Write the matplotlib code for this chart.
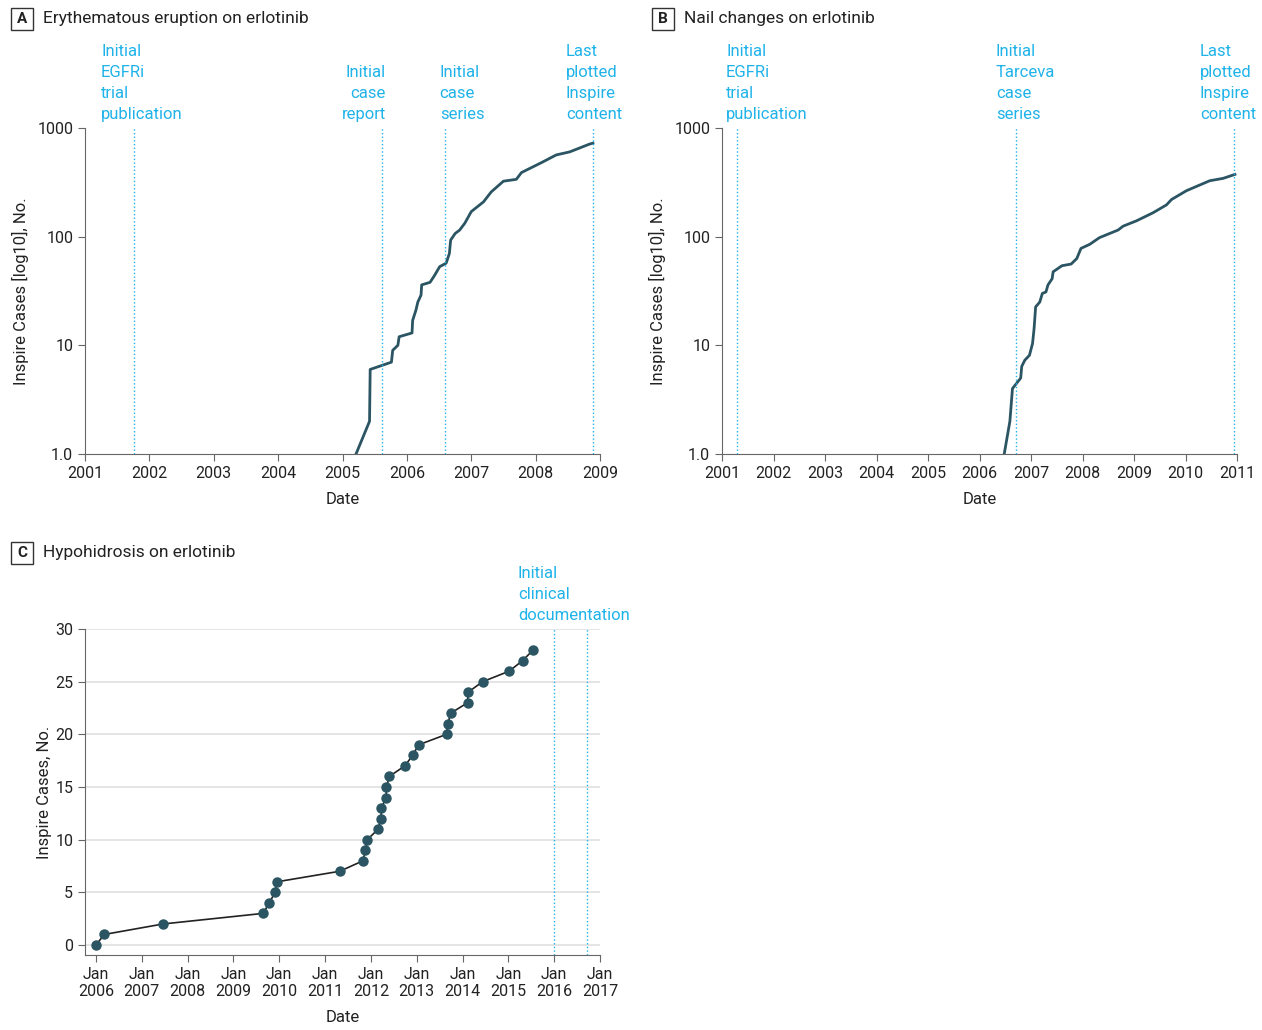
# Inspire cases on erlotinib - three panels
import numpy as np
import matplotlib.pyplot as plt
from matplotlib.patches import Rectangle

plt.rcParams['font.family'] = ['Roboto', 'DejaVu Sans']

# =========================
# Data (dates as decimal years)
# =========================
a_dates = [2005.21, 2005.42, 2005.43, 2005.76, 2005.78, 2005.86, 2005.88, 2006.08, 2006.09,
           2006.14, 2006.17, 2006.22, 2006.23, 2006.36, 2006.43, 2006.51, 2006.61, 2006.66,
           2006.68, 2006.75, 2006.82, 2006.90, 2007.00, 2007.19, 2007.31, 2007.50, 2007.70,
           2007.78, 2008.09, 2008.32, 2008.53, 2008.84, 2008.89]
a_cases = [1, 2, 6, 7, 9, 10, 12, 13, 17, 21, 25, 29, 36, 38, 44, 53, 57, 70, 93, 107, 115,
           133, 170, 209, 258, 324, 337, 389, 480, 565, 603, 712, 725]
a_events = [2001.76, 2005.61, 2006.59, 2008.89]

b_dates = [2006.48, 2006.59, 2006.64, 2006.80, 2006.82, 2006.88, 2006.97, 2007.03, 2007.06,
           2007.09, 2007.17, 2007.22, 2007.29, 2007.33, 2007.41, 2007.43, 2007.60, 2007.78,
           2007.89, 2007.97, 2008.14, 2008.33, 2008.69, 2008.79, 2009.05, 2009.37, 2009.63,
           2009.73, 2010.02, 2010.47, 2010.73, 2010.96]
b_cases = [1, 2, 4, 5, 6.4, 7.3, 8.1, 10.4, 14.3, 22.6, 25, 30, 31, 36, 41, 47.5, 54, 56, 63,
           78, 85, 98, 115, 125, 140, 166, 196, 220, 265, 327, 344, 374]
b_events = [2001.29, 2006.71, 2010.94]

c_dates = [2006.00, 2006.18, 2007.47, 2009.65, 2009.78, 2009.91, 2009.95, 2011.32, 2011.83,
           2011.88, 2011.92, 2012.16, 2012.22, 2012.23, 2012.33, 2012.34, 2012.40, 2012.74,
           2012.91, 2013.04, 2013.65, 2013.68, 2013.74, 2014.11, 2014.12, 2014.44, 2015.02,
           2015.31, 2015.54]
c_cases = list(range(0, 29))
c_events = [2016.0, 2016.72]

years_a = list(range(2001, 2010))
years_b = list(range(2001, 2012))
years_c = list(range(2006, 2018))
log_ticks = [1, 10, 100, 1000]
log_labels = ["1.0", "10", "100", "1000"]

LINE = "#2b5563"
CYAN = "#1fb3ea"
SPINE = "#666666"

fig = plt.figure(figsize=(12.62, 10.30), dpi=100)
W, H = 1262.0, 1030.0

def px_axes(x0, y0, x1, y1):
    return fig.add_axes([x0 / W, 1 - y1 / H, (x1 - x0) / W, (y1 - y0) / H])

def style(ax):
    for s in ["top", "right"]:
        ax.spines[s].set_visible(False)
    for s in ["left", "bottom"]:
        ax.spines[s].set_color(SPINE)
    ax.tick_params(colors=SPINE, labelcolor="#222222", labelsize=11.5, length=5)

def panel_label(letter, title, x, y):
    fig.add_artist(Rectangle(((x - 11) / W, 1 - (y + 11) / H), 22 / W, 22 / H,
                             transform=fig.transFigure, fill=False, lw=1.0, ec="#333333"))
    fig.text(x / W, 1 - y / H, letter, ha="center", va="center", fontsize=11,
             fontweight="bold", color="#222222")
    fig.text((x + 21) / W, 1 - y / H, title, ha="left", va="center", fontsize=12.5,
             color="#222222")

def notes(ax, items):
    for x, txt, ha in items:
        ax.text(x, 1.018, txt, transform=ax.get_xaxis_transform(), ha=ha, va="bottom",
                color=CYAN, fontsize=12, linespacing=1.5)

# =========================
# Panel A
# =========================
axA = px_axes(85, 128, 600, 454)
axA.plot(a_dates, a_cases, color=LINE, lw=2)
for e in a_events:
    axA.axvline(e, color=CYAN, ls=":", lw=1)
axA.set_yscale("log")
axA.set_ylim(1, 1000)
axA.set_xlim(2001, 2009)
axA.set_xticks(years_a)
axA.set_xticklabels([str(y) for y in years_a])
axA.set_yticks(log_ticks)
axA.set_yticklabels(log_labels)
axA.minorticks_off()
axA.set_xlabel("Date", fontsize=12, color="#222222", labelpad=8)
axA.set_ylabel("Inspire Cases [log10], No.", fontsize=12, color="#222222", labelpad=6)
style(axA)
notes(axA, [(2001.25, "Initial\nEGFRi\ntrial\npublication", "left"),
            (2005.67, "Initial\ncase\nreport", "right"),
            (2006.51, "Initial\ncase\nseries", "left"),
            (2008.47, "Last\nplotted\nInspire\ncontent", "left")])
panel_label("A", "Erythematous eruption on erlotinib", 22, 19)

# =========================
# Panel B
# =========================
axB = px_axes(722, 128, 1237, 454)
axB.plot(b_dates, b_cases, color=LINE, lw=2)
for e in b_events:
    axB.axvline(e, color=CYAN, ls=":", lw=1)
axB.set_yscale("log")
axB.set_ylim(1, 1000)
axB.set_xlim(2001, 2011)
axB.set_xticks(years_b)
axB.set_xticklabels([str(y) for y in years_b])
axB.set_yticks(log_ticks)
axB.set_yticklabels(log_labels)
axB.minorticks_off()
axB.set_xlabel("Date", fontsize=12, color="#222222", labelpad=8)
axB.set_ylabel("Inspire Cases [log10], No.", fontsize=12, color="#222222", labelpad=6)
style(axB)
notes(axB, [(2001.08, "Initial\nEGFRi\ntrial\npublication", "left"),
            (2006.32, "Initial\nTarceva\ncase\nseries", "left"),
            (2010.28, "Last\nplotted\nInspire\ncontent", "left")])
panel_label("B", "Nail changes on erlotinib", 663, 19)

# =========================
# Panel C
# =========================
axC = px_axes(85, 629, 600, 955)
for g in range(0, 31, 5):
    axC.axhline(g, color="#e0e0e0", lw=1.2, zorder=0)
axC.plot(c_dates, c_cases, color="#222222", lw=1.2, marker="o", ms=6.5,
         mfc=LINE, mec=LINE, zorder=3)
for e in c_events:
    axC.axvline(e, color=CYAN, ls=":", lw=1)
axC.set_xlim(2005.76, 2017)
axC.set_ylim(-0.95, 30)
axC.set_xticks(years_c)
axC.set_xticklabels(["Jan\n%d" % y for y in years_c])
axC.set_yticks(range(0, 31, 5))
axC.set_xlabel("Date", fontsize=12, color="#222222", labelpad=8)
axC.set_ylabel("Inspire Cases, No.", fontsize=12, color="#222222", labelpad=2)
style(axC)
notes(axC, [(2015.21, "Initial\nclinical\ndocumentation", "left")])
panel_label("C", "Hypohidrosis on erlotinib", 22, 553)

fig.savefig("out.png", dpi=100)
